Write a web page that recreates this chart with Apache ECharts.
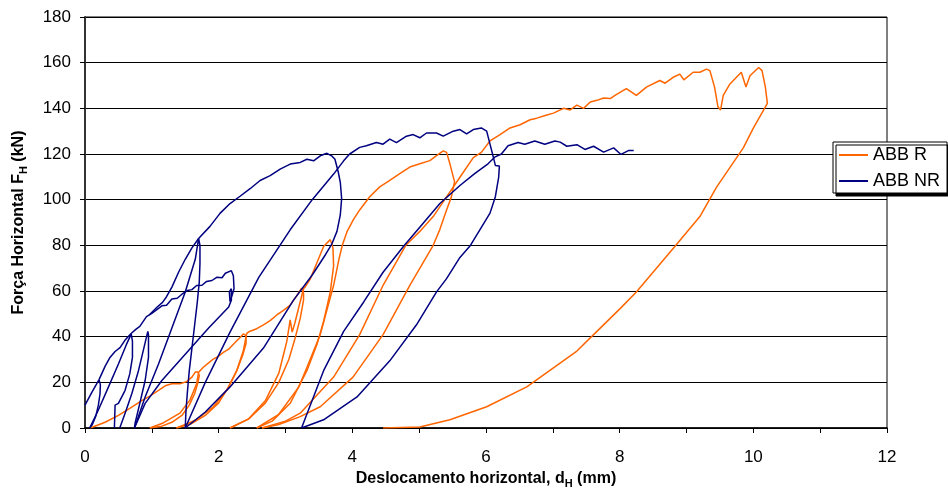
<!DOCTYPE html>
<html><head><meta charset="utf-8">
<script src="https://cdn.jsdelivr.net/npm/echarts@6/dist/echarts.min.js"></script>
<style>html,body{margin:0;padding:0;background:#fff}#c{width:948px;height:494px}</style>
</head><body><div id="c"></div>
<script>
// Tick labels
const xTicks = [0, 2, 4, 6, 8, 10, 12];
const yTicks = [0, 20, 40, 60, 80, 100, 120, 140, 160, 180];
// ABB R (orange) curve segments [d_H mm, F_H kN]
const abbR_load1 = [[0.08,0],[0.3,2.5],[0.5,5.5],[0.67,8.6],[0.85,12],[0.97,14],[1.1,16.5],[1.2,18.5],[1.3,19.4],[1.42,19.4],[1.52,20.3],[1.6,22.3],[1.65,24.5],[1.69,24.5],[1.71,23],[1.69,20],[1.64,15],[1.56,10],[1.45,5.5],[1.3,2.5],[1.15,0.8],[0.97,0]];
const abbR_rel1 = [[0.97,0],[1.17,2.2],[1.42,6.5],[1.57,12.2],[1.67,19.4],[1.70,24.4]];
const abbR_env1 = [[1.70,24.4],[1.77,26.6],[1.85,28.5],[1.92,30.2],[2.0,31.5],[2.07,33.1],[2.15,34.5],[2.22,36.7],[2.32,39.6],[2.37,41.2],[2.41,40.5],[2.41,37],[2.36,32],[2.27,25],[2.15,18],[2.0,11],[1.8,5.5],[1.6,2],[1.37,0]];
const abbR_rel2 = [[1.37,0],[1.67,3.6],[1.92,9.3],[2.12,16.5],[2.27,25.1],[2.37,34],[2.42,41.5]];
const abbR_env2 = [[2.42,41.5],[2.47,42.4],[2.57,43.5],[2.67,45.2],[2.77,47],[2.87,49.5],[2.97,51.5],[3.07,53.8],[3.17,58],[3.24,61.3],[3.27,59],[3.27,56],[3.22,48],[3.15,40],[3.05,30],[2.9,20],[2.7,11],[2.45,4],[2.17,0]];
const abbR_rel3 = [[2.17,0],[2.45,4],[2.7,12],[2.9,24],[3.02,38],[3.07,47.4],[3.1,42],[3.14,46],[3.2,53],[3.27,61],[3.3,62],[3.37,65.2],[3.47,72.4],[3.57,79.5],[3.67,82.5],[3.71,79],[3.72,71],[3.67,59.6],[3.57,46.7],[3.47,36.6],[3.32,25.1],[3.07,10.8],[2.8,3],[2.57,0]];
const abbR_rel4 = [[2.57,0],[2.9,6],[3.2,18],[3.32,26.5],[3.52,40.9],[3.72,62.5],[3.8,74],[3.85,80],[3.92,86],[4.02,91.5],[4.11,95.5],[4.26,101.3],[4.41,105.6],[4.56,108.5],[4.71,111.4],[4.86,114.3],[5.01,115.7],[5.16,117.1],[5.26,119.3],[5.36,121.4],[5.41,120.7],[5.46,115.7],[5.51,110],[5.53,107.9],[5.48,101],[5.41,95.5],[5.31,87],[5.21,80],[4.86,62.5],[4.46,40.9],[4.01,22.3],[3.52,9.3],[3.22,5],[2.9,1.5],[2.65,0]];
const abbR_main = [[2.65,0],[3.0,3],[3.22,6.5],[3.72,22.3],[4.11,40.9],[4.46,62.5],[4.8,80],[5.01,86.1],[5.21,92.6],[5.41,101.2],[5.61,109.8],[5.81,118.4],[5.93,120.7],[6.06,125.7],[6.21,128.5],[6.36,131.4],[6.51,132.8],[6.66,135],[6.76,135.7],[6.91,137.1],[7.01,137.9],[7.16,140],[7.26,139.3],[7.36,141.4],[7.46,140],[7.56,142.8],[7.66,143.5],[7.76,144.5],[7.86,144.3],[7.93,145.7],[8.1,148.6],[8.25,145.7],[8.4,149.3],[8.6,152.2],[8.68,151],[8.8,153.6],[8.9,155],[8.96,152.5],[9.1,155.8],[9.2,155.8],[9.3,157.2],[9.35,156.5],[9.42,149.3],[9.47,140.7],[9.51,139.3],[9.55,145.7],[9.65,150.7],[9.82,155.8],[9.89,149.3],[9.95,154.3],[10.08,157.9],[10.13,156.5],[10.18,149.3],[10.21,142.2],[10.2,141.4],[10.0,131.3],[9.85,122.7],[9.45,105.5],[9.2,92.6],[8.85,80.4],[8.25,59.6],[8.01,52.4],[7.61,40.9],[7.36,33.7],[6.61,18],[6.01,9.3],[5.46,3.6],[5.01,0.4],[4.46,0]];
// ABB NR (navy) curve segments
const abbNR_leaf1 = [[0,10],[0.1,15.5],[0.21,21.2],[0.23,19],[0.225,15],[0.2,10],[0.16,5],[0.11,1.5],[0.07,0]];
const abbNR_rel1 = [[0.07,0],[0.2,7.9],[0.35,17.9],[0.5,28],[0.62,36.6],[0.69,41]];
const abbNR_env1 = [[0.21,21.2],[0.3,27],[0.374,30.9],[0.45,33.5],[0.524,35.2],[0.6,38.5],[0.69,41.4],[0.71,38],[0.71,30.9],[0.67,23.7],[0.6,16.5],[0.5,10.8],[0.45,10],[0.44,0]];
const abbNR_leaf3 = [[0.52,0],[0.6,6.5],[0.7,15],[0.8,25.1],[0.87,33.7],[0.94,42.3],[0.95,40.9],[0.95,30.9],[0.9,20.8],[0.82,10.8],[0.75,2.2],[0.74,0]];
const abbNR_env2 = [[0.69,41.4],[0.76,43.2],[0.82,44.5],[0.92,48.8],[1.0,50.2],[1.07,51.7],[1.15,53.5],[1.22,53.8],[1.3,56.5],[1.38,56.8],[1.45,58.6],[1.53,60.2],[1.6,60.6],[1.67,62.4],[1.75,62.5],[1.82,64.2],[1.9,64.6],[1.97,66.0],[2.05,65.8],[2.1,67.8],[2.19,68.9],[2.22,66.7],[2.23,61],[2.2,58],[2.17,55.3],[2.16,59.6],[2.19,61],[2.19,56],[2.15,53],[1.85,43.8],[1.5,32.3],[1.15,20.8],[0.9,10.8],[0.74,0]];
const abbNR_leaf4 = [[0.74,0],[0.9,13.6],[1.1,28],[1.3,43.8],[1.5,59.6],[1.65,73.9],[1.7,83],[1.72,80],[1.72,72],[1.71,64],[1.68,55],[1.64,45],[1.6,35],[1.56,25],[1.53,15],[1.51,7],[1.5,0]];
const abbNR_leaf4b = [[0.96,49.5],[1.08,53],[1.16,55],[1.22,57.5],[1.3,61.7],[1.4,68.2],[1.5,73.9],[1.6,78.9],[1.7,83]];
const abbNR_env3 = [[1.7,83],[1.87,88.3],[2.02,94],[2.17,98.3],[2.32,101.5],[2.47,104.8],[2.62,108.4],[2.77,110.5],[2.92,113.4],[3.07,115.6],[3.22,116.3],[3.32,117.7],[3.42,117],[3.52,119.2],[3.62,120.3],[3.69,119.2],[3.74,117.7],[3.79,112],[3.82,107.6],[3.84,100.5],[3.82,93.3],[3.77,86.1],[3.69,80.4],[3.6,76],[3.4,67],[3.12,56],[2.67,35],[2.17,18],[1.8,7],[1.5,0]];
const abbNR_rel2 = [[1.5,0],[1.8,20],[2.17,42],[2.6,66],[3.07,86.8],[3.4,100],[3.72,111.2],[3.87,117],[3.96,120],[4.11,122.9],[4.21,123.6],[4.36,125],[4.46,124.3],[4.56,126.5],[4.66,125],[4.81,127.8],[4.91,128.5],[5.01,127.1],[5.11,129.2],[5.26,129.2],[5.36,127.8],[5.51,130],[5.61,130.7],[5.71,128.8],[5.81,130.7],[5.93,131.4],[6.01,130],[6.06,124.3],[6.11,118.6],[6.14,115],[6.2,114.7],[6.19,109.9],[6.14,101.3],[6.06,94.1],[5.91,86.9],[5.76,79.7],[5.61,74.7],[5.41,65.4],[5.26,59.6],[4.96,45.2],[4.56,29.4],[4.07,13.6],[3.57,3.6],[3.24,0]];
const abbNR_rel3 = [[3.24,0],[3.57,25.1],[3.87,42.3],[4.17,55.2],[4.46,68.2],[4.77,79.7],[5.06,89.7],[5.31,98.3],[5.61,106.2],[5.83,111.4],[6.03,115.7],[6.13,118.6],[6.23,120],[6.33,123.6],[6.48,125],[6.58,124.3],[6.73,125.7],[6.88,124.3],[7.03,125.7],[7.11,125.2],[7.21,123.4],[7.36,124.1],[7.48,122],[7.61,123.4],[7.76,120.8],[7.91,122.7],[8.02,119.8],[8.13,121.5],[8.21,121.5]];

const rSegs = [abbR_load1, abbR_rel1, abbR_env1, abbR_rel2, abbR_env2, abbR_rel3, abbR_rel4, abbR_main];
const nrSegs = [abbNR_leaf1, abbNR_rel1, abbNR_env1, abbNR_leaf3, abbNR_env2, abbNR_leaf4, abbNR_leaf4b, abbNR_env3, abbNR_rel2, abbNR_rel3];
const ORANGE = '#FF6600', NAVY = '#000080';
const FONT = 'Liberation Sans, Arial, sans-serif';

const series = [];
rSegs.forEach(d => series.push({name:'ABB R', type:'line', data:d, symbol:'none', showSymbol:false, lineStyle:{color:ORANGE, width:1.5}, itemStyle:{color:ORANGE}}));
nrSegs.forEach(d => series.push({name:'ABB NR', type:'line', data:d, symbol:'none', showSymbol:false, lineStyle:{color:NAVY, width:1.5}, itemStyle:{color:NAVY}}));

const chart = echarts.init(document.getElementById('c'), null, {renderer:'canvas', width:948, height:494});
chart.setOption({
  animation:false,
  backgroundColor:'#fff',
  textStyle:{fontFamily:FONT},
  grid:{left:85, top:17, width:802, height:418, show:true, borderColor:'#000', borderWidth:1},
  legend:{
    data:['ABB R','ABB NR'], orient:'vertical', left:833, top:142,
    icon:'rect', itemWidth:29, itemHeight:2, itemGap:8,
    padding:[4,7,3,6], backgroundColor:'#fff', borderColor:'#000', borderWidth:1,
    shadowColor:'#000', shadowOffsetX:3, shadowOffsetY:3, shadowBlur:0,
    textStyle:{fontSize:18, color:'#000', fontFamily:FONT}
  },
  xAxis:{
    type:'value', min:0, max:12, interval:2,
    name:'Deslocamento horizontal, d{s|H} (mm)', nameLocation:'middle', nameGap:41,
    nameTextStyle:{fontSize:16, fontWeight:'bold', color:'#000', fontFamily:FONT, rich:{s:{fontSize:11, fontWeight:'bold', fontFamily:FONT, padding:[9,0,0,0]}}},
    axisLine:{lineStyle:{color:'#000', width:1.5}},
    axisTick:{show:true, length:5, lineStyle:{color:'#000'}},
    minorTick:{show:true, splitNumber:2, length:5, lineStyle:{color:'#000'}},
    axisLabel:{fontSize:17, color:'#000', margin:21, formatter:v=>xTicks.includes(v)?String(v):''},
    splitLine:{show:false}
  },
  yAxis:{
    type:'value', min:0, max:180, interval:20,
    name:'Força Horizontal F{s|H} (kN)', nameLocation:'middle', nameGap:56, nameRotate:90,
    nameTextStyle:{fontSize:16, fontWeight:'bold', color:'#000', fontFamily:FONT, rich:{s:{fontSize:11, fontWeight:'bold', fontFamily:FONT, padding:[9,0,0,0]}}},
    axisLine:{show:true, lineStyle:{color:'#333', width:2}},
    axisTick:{show:true, length:5, lineStyle:{color:'#000'}},
    axisLabel:{fontSize:17, color:'#000', margin:14, formatter:v=>yTicks.includes(v)?String(v):''},
    splitLine:{show:true, lineStyle:{color:'#000', width:1}}
  },
  series: series
});
</script></body></html>
